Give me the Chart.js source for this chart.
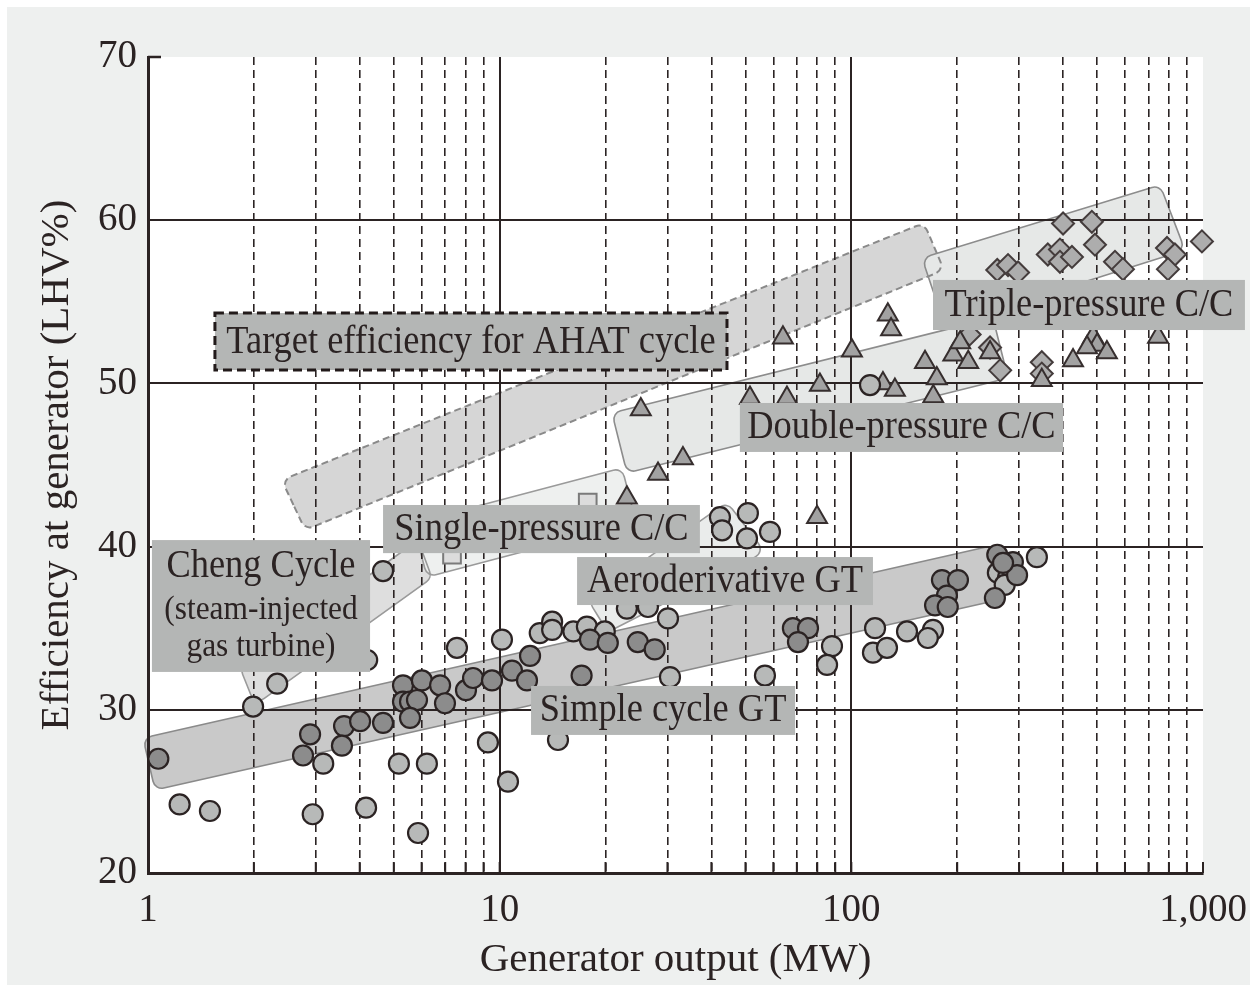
<!DOCTYPE html>
<html>
<head>
<meta charset="utf-8">
<title>Efficiency at generator vs generator output</title>
<script src="https://cdn.jsdelivr.net/npm/chart.js@4.4.1/dist/chart.umd.min.js"></script>
<style>
  html, body { margin: 0; padding: 0; background: #ffffff; }
  #wrap { width: 1250px; height: 985px; }
</style>
</head>
<body>
<div id="wrap"><canvas id="chart" width="1250" height="985"></canvas></div>
<script>
// --- DATA: output in MW, efficiency in LHV% ---
const xTickValues = [1, 2, 3, 4, 5, 6, 7, 8, 9, 10, 20, 30, 40, 50, 60, 70, 80, 90,
                     100, 200, 300, 400, 500, 600, 700, 800, 900, 1000];
const xTickLabels = { 1: '1', 10: '10', 100: '100', 1000: '1,000' };
const yTickValues = [20, 30, 40, 50, 60, 70];

// simple cycle / aeroderivative gas turbines (dark and light circles)
const darkCircleMW  = [1.07, 2.89, 3.61, 3.56, 2.76, 4.01, 4.66, 5.31, 6.01, 5.31, 5.56, 5.82, 5.56,
                       6.77, 6.99, 8.02, 8.40, 9.51, 10.84, 11.96, 12.2, 18.06, 20.3, 17.1, 24.7, 27.6,
                       68.2, 75.3, 70.5, 181, 201, 187, 173, 188, 260, 288, 256, 296, 270];
const darkCircleEff = [27.0, 28.5, 29.0, 27.8, 27.2, 29.3, 29.2, 31.5, 31.8, 30.5, 30.5, 30.6, 29.5,
                       31.5, 30.4, 31.2, 31.95, 31.8, 32.4, 31.8, 33.3, 34.3, 34.1, 32.1, 34.15, 33.7,
                       35.0, 35.0, 34.15, 37.95, 37.95, 37.0, 36.4, 36.3, 39.5, 39.05, 36.85, 38.25, 39.0];

const lightCircleMW  = [1.23, 1.50, 1.99, 2.33, 4.66, 4.2, 3.15, 2.94, 4.17, 5.17, 6.21, 5.86, 7.56,
                        9.26, 10.15, 10.56, 13.0, 14.1, 14.1, 16.2, 17.7, 19.9, 30.1, 30.5, 14.65,
                        23.0, 26.4, 42.3, 42.9, 50.8, 50.5, 58.7, 56.8, 88.1, 85.3, 116.8, 115.2,
                        126.3, 144, 170.7, 165, 337, 277, 261, 279, 273, 113];
const lightCircleEff = [24.2, 23.8, 30.2, 31.6, 38.5, 33.05, 26.7, 23.6, 24.0, 26.7, 26.7, 22.45, 33.8,
                        28.0, 34.3, 25.6, 34.7, 35.4, 34.9, 34.8, 35.1, 34.8, 35.6, 32.0, 28.15,
                        36.2, 36.3, 41.8, 41.0, 42.05, 40.5, 40.9, 32.1, 33.9, 32.75, 35.0, 33.5,
                        33.8, 34.8, 34.9, 34.4, 39.35, 38.75, 38.4, 38.1, 37.65, 49.9];

// combined cycles (triangles), triple-pressure (diamonds), single-pressure (squares)
const triangleMW  = [25.2, 33.2, 28.2, 23.0, 63.9, 100.4, 127, 129.7, 81.4, 123, 133, 51.5, 65.6,
                     79.9, 162, 175, 171, 195, 204, 215, 248, 348, 487, 500, 533, 468, 427, 745];
const triangleEff = [48.4, 45.4, 44.45, 43.0, 52.8, 52.0, 54.2, 53.3, 49.9, 50.0, 49.6, 49.1, 49.1,
                     41.8, 51.3, 50.3, 49.2, 51.75, 52.5, 51.3, 51.9, 50.2, 52.85, 52.35, 51.9, 52.2, 51.4, 52.85];

const diamondMW  = [400, 483, 493, 362, 392, 392, 424, 260, 279, 298, 562, 592, 790, 832, 795, 993,
                    217, 248, 265, 348, 348];
const diamondEff = [59.8, 59.9, 58.5, 57.9, 58.2, 57.45, 57.75, 56.95, 57.25, 56.8, 57.45, 57.0, 58.3,
                    57.9, 57.0, 58.7, 53.0, 52.2, 50.8, 51.3, 50.6];

const squareMW  = [17.8, 7.32];
const squareEff = [42.7, 39.5];

// range bands, corners in data space (top-left, top-right, bottom-right, bottom-left)
const ahatBandMW    = [2.40, 160.9, 183.4, 2.80];
const ahatBandEff   = [44.08, 59.83, 56.95, 41.02];
const simpleBandMW  = [0.968, 256.2, 277.1, 1.047];
const simpleBandEff = [28.27, 40.1, 36.85, 25.09];
const chengBandMW   = [1.827, 5.86, 6.42, 2.015];
const chengBandEff  = [32.56, 40.4, 38.08, 30.29];
const singleBandMW  = [5.67, 22.28, 24.42, 6.215];
const singleBandEff = [41.45, 44.82, 41.51, 38.14];
const aeroBandMW    = [17.83, 44.3, 56.8, 20.32];
const aeroBandEff   = [36.73, 42.73, 39.67, 34.77];
const doubleBandMW  = [20.86, 252.8, 278.9, 23.02];
const doubleBandEff = [48.19, 54.01, 50.33, 44.51];
const tripleBandMW  = [158.8, 754.6, 888.9, 184.6];
const tripleBandEff = [57.68, 62.16, 58.17, 53.52];

// label boxes: [left MW, right MW], [bottom %, top %]
const labelTexts = [
  ['Target efficiency for AHAT cycle'],
  ['Triple-pressure C/C'],
  ['Double-pressure C/C'],
  ['Single-pressure C/C'],
  ['Aeroderivative GT'],
  ['Simple cycle GT'],
  ['Cheng Cycle', '(steam-injected', 'gas turbine)']
];
const labelMW  = [[1.55, 44.3], [170.7, 1316], [48.2, 400], [4.66, 37.1], [16.6, 115.2], [12.28, 69.2], [1.026, 4.28]];
const labelEff = [[50.82, 54.31], [53.27, 56.34], [45.8, 48.8], [39.6, 42.55], [36.42, 39.36], [28.46, 31.46], [32.32, 40.4]];

// --- STYLE ---
const ink = '#2b2323';
const serif = "'Liberation Serif', 'DejaVu Serif', serif";

const bands = [
  { mw: ahatBandMW, eff: ahatBandEff, fill: '#d6d6d6', stroke: '#8a8a8a', dash: [7, 4], width: 2 },
  { mw: simpleBandMW, eff: simpleBandEff, fill: '#c9c9c9', stroke: '#8a8a8a', dash: [], width: 1.6 },
  { mw: chengBandMW, eff: chengBandEff, fill: '#dedede', stroke: '#9a9a9a', dash: [], width: 1.6 },
  { mw: singleBandMW, eff: singleBandEff, fill: '#eef0ef', stroke: '#9a9a9a', dash: [], width: 1.6 },
  { mw: aeroBandMW, eff: aeroBandEff, fill: '#eaeceb', stroke: '#9a9a9a', dash: [], width: 1.6 },
  { mw: doubleBandMW, eff: doubleBandEff, fill: '#e6e8e7', stroke: '#8c8c8c', dash: [], width: 1.6 },
  { mw: tripleBandMW, eff: tripleBandEff, fill: '#e6e8e7', stroke: '#8c8c8c', dash: [], width: 1.6 }
];

function toPoints(xs, ys) {
  return xs.map((v, i) => ({ x: v, y: ys[i] }));
}

// polygon with rounded corners, as a Path2D
function roundedPoly(pts, r) {
  const p = new Path2D();
  const n = pts.length;
  const mid = (a, b) => [(a[0] + b[0]) / 2, (a[1] + b[1]) / 2];
  const start = mid(pts[n - 1], pts[0]);
  p.moveTo(start[0], start[1]);
  for (let i = 0; i < n; i++) {
    const cur = pts[i];
    const m = mid(cur, pts[(i + 1) % n]);
    p.arcTo(cur[0], cur[1], m[0], m[1], r);
  }
  p.closePath();
  return p;
}

const backdrop = {
  id: 'backdrop',
  beforeDraw(chart) {
    const { ctx, chartArea: a, scales: { x, y } } = chart;
    ctx.save();
    ctx.fillStyle = '#ffffff';
    ctx.fillRect(0, 0, chart.width, chart.height);
    ctx.fillStyle = '#eef0ef';
    ctx.fillRect(7, 7, chart.width - 7, chart.height - 7);
    ctx.fillStyle = '#ffffff';
    ctx.fillRect(a.left, a.top, a.right - a.left, a.bottom - a.top);

    // bands sit under the grid
    const paths = bands.map(b =>
      roundedPoly(b.mw.map((v, i) => [x.getPixelForValue(v), y.getPixelForValue(b.eff[i])]), 9));
    bands.forEach((b, i) => { ctx.fillStyle = b.fill; ctx.fill(paths[i]); });
    bands.forEach((b, i) => {
      ctx.setLineDash(b.dash);
      ctx.lineWidth = b.width;
      ctx.strokeStyle = b.stroke;
      ctx.stroke(paths[i]);
    });
    ctx.restore();
  },
  afterDatasetsDraw(chart) {
    const { ctx, chartArea: a, scales: { x, y } } = chart;
    ctx.save();
    ctx.strokeStyle = ink;
    // small inward ticks along the x axis and at the top of the y axis
    ctx.lineWidth = 2;
    ctx.beginPath();
    xTickValues.forEach(v => {
      const px = x.getPixelForValue(v);
      ctx.moveTo(px, a.bottom);
      ctx.lineTo(px, a.bottom - 11);
    });
    ctx.stroke();
    const yTop = y.getPixelForValue(70);
    ctx.lineWidth = 2.5;
    ctx.beginPath();
    ctx.moveTo(a.left, yTop);
    ctx.lineTo(a.left + 13, yTop);
    ctx.stroke();
    ctx.restore();
  },
  afterDraw(chart) {
    const { ctx, scales: { x, y } } = chart;
    ctx.save();
    // grey label boxes on top of everything
    labelTexts.forEach((lines, k) => {
      const left = x.getPixelForValue(labelMW[k][0]);
      const right = x.getPixelForValue(labelMW[k][1]);
      const top = y.getPixelForValue(labelEff[k][1]);
      const bottom = y.getPixelForValue(labelEff[k][0]);
      ctx.fillStyle = '#b4b6b5';
      ctx.fillRect(left, top, right - left, bottom - top);
      if (k === 0) {
        ctx.setLineDash([9, 5]);
        ctx.lineWidth = 3;
        ctx.strokeStyle = '#221a1a';
        ctx.strokeRect(left, top, right - left, bottom - top);
        ctx.setLineDash([]);
      }
      ctx.fillStyle = ink;
      ctx.textAlign = 'center';
      ctx.textBaseline = 'alphabetic';
      const cx = (left + right) / 2;
      lines.forEach((txt, j) => {
        const size = j === 0 ? 40 : 34.5;
        const base = lines.length === 1 ? (top + bottom) / 2 + 11 : top + [37, 79, 116][j];
        ctx.save();
        ctx.font = size + 'px ' + serif;
        ctx.translate(cx, base);
        ctx.scale(0.91, 1);
        ctx.fillText(txt, 0, 0);
        ctx.restore();
      });
    });
    ctx.restore();
  }
};

const circleStyle = { pointStyle: 'circle', pointRadius: 10, pointBorderWidth: 2.2, pointBorderColor: ink };

new Chart(document.getElementById('chart'), {
  type: 'scatter',
  data: {
    datasets: [
      Object.assign({ label: 'Gas turbine (a)', data: toPoints(darkCircleMW, darkCircleEff), pointBackgroundColor: '#8c8c8c' }, circleStyle),
      Object.assign({ label: 'Gas turbine (b)', data: toPoints(lightCircleMW, lightCircleEff), pointBackgroundColor: '#b7b9b8' }, circleStyle),
      { label: 'Combined cycle', data: toPoints(triangleMW, triangleEff), pointStyle: 'triangle', pointRadius: 11.5,
        pointBackgroundColor: '#a2a2a2', pointBorderColor: '#362e2e', pointBorderWidth: 2 },
      { label: 'Triple-pressure', data: toPoints(diamondMW, diamondEff), pointStyle: 'rectRot', pointRadius: 11,
        pointBackgroundColor: '#adadad', pointBorderColor: '#443c3c', pointBorderWidth: 2 },
      { label: 'Single-pressure', data: toPoints(squareMW, squareEff), pointStyle: 'rect', pointRadius: 12.5,
        pointBackgroundColor: '#dcdcdc', pointBorderColor: '#7a7a7a', pointBorderWidth: 2 }
    ].map(d => Object.assign({ showLine: false, clip: false }, d))
  },
  options: {
    responsive: false,
    animation: false,
    events: [],
    layout: { padding: { left: 0, top: 57, right: 47, bottom: 0 } },
    plugins: { legend: { display: false }, tooltip: { enabled: false } },
    scales: {
      x: {
        type: 'logarithmic',
        min: 1,
        max: 1000,
        afterFit(scale) {
          scale.height = 112;
          scale.paddingLeft = 0;
          scale.paddingRight = 0;
        },
        afterBuildTicks(scale) { scale.ticks = xTickValues.map(v => ({ value: v })); },
        ticks: {
          autoSkip: false, maxRotation: 0, padding: 14, color: ink,
          font: { family: serif, size: 39 },
          callback: v => xTickLabels[v] || ''
        },
        grid: {
          drawTicks: false,
          color: c => (c.tick && c.tick.value > 1 && c.tick.value < 1000) ? ink : 'rgba(0,0,0,0)',
          lineWidth: c => (c.tick && (c.tick.value === 10 || c.tick.value === 100)) ? 2 : 1.6
        },
        border: {
          color: ink, width: 3,
          dash: c => (c.tick && c.tick.value !== 10 && c.tick.value !== 100) ? [8, 5] : []
        },
        title: {
          display: true, text: 'Generator output (MW)', color: ink,
          font: { family: serif, size: 41 }, padding: { top: 0, bottom: 0 }
        }
      },
      y: {
        min: 20,
        max: 70,
        afterFit(scale) {
          scale.width = 148;
          scale.paddingTop = 0;
          scale.paddingBottom = 0;
        },
        afterBuildTicks(scale) { scale.ticks = yTickValues.map(v => ({ value: v })); },
        ticks: { padding: 11, color: ink, font: { family: serif, size: 39 } },
        grid: {
          drawTicks: false,
          color: c => (c.tick && c.tick.value > 20 && c.tick.value < 70) ? ink : 'rgba(0,0,0,0)',
          lineWidth: 2
        },
        border: { color: ink, width: 3 },
        title: {
          display: true, text: 'Efficiency at generator (LHV%)', color: ink,
          font: { family: serif, size: 41 }, padding: { top: 33, bottom: 0 }
        }
      }
    }
  },
  plugins: [backdrop]
});
</script>
</body>
</html>
